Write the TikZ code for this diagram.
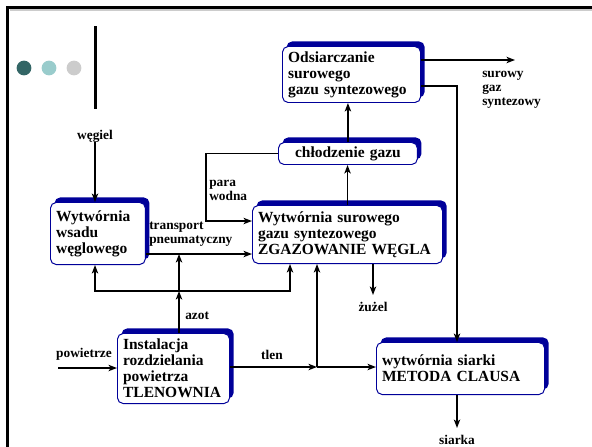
\documentclass[tikz,border=0pt]{standalone}
\usepackage{fontspec}
\setmainfont{Liberation Serif}
\usetikzlibrary{positioning,arrows.meta,calc,shadows}
\definecolor{ClausBlue}{RGB}{0,0,153}
\definecolor{DotDark}{RGB}{51,102,102}
\definecolor{DotLight}{RGB}{153,204,204}
\definecolor{DotGrey}{RGB}{204,204,204}

\begin{document}
\begin{tikzpicture}[x=0.025cm, y=-0.025cm,
  stage/.style={draw=ClausBlue, line width=0.7pt, rounded corners=4pt, fill=white,
                anchor=north west, align=left, inner xsep=4pt, inner ysep=2pt,
                font=\fontsize{11}{11.3}\selectfont\bfseries,
                general shadow={shadow xshift=2.9pt, shadow yshift=3.6pt, fill=ClausBlue}},
  lbl/.style={align=left, inner sep=0pt, font=\fontsize{9.5}{10}\selectfont\bfseries},
  arr/.style={-{Stealth[length=6pt, width=4.5pt, inset=1.5pt]}, line width=1.2pt}]
  \useasboundingbox (0,0) rectangle (592,447);

  % slide frame and dots
  \draw[DotGrey, line width=1pt] (592,9.8) -- (9.5,9.8);
  \draw[line width=2pt] (592,7.3) -- (7.3,7.3) -- (7.3,447);
  \fill[DotDark] (24,68) circle (7.4);
  \fill[DotLight] (49,68) circle (7.4);
  \fill[DotGrey] (74,68) circle (7.4);
  \draw[line width=1.6pt] (95.5,26) -- (95.5,109);

  % process stages
  \node[stage, text width=3.17cm, minimum height=1.4cm] (desulf) at (282,46)
    {Odsiarczanie\\surowego\\gazu syntezowego};
  \node[stage, text width=3.19cm, minimum height=0.55cm, align=center] (cooling) at (278,142)
    {chłodzenie gazu};
  \node[stage, text width=2.09cm, minimum height=1.55cm] (coalprep) at (50,202)
    {Wytwórnia\\wsadu\\węglowego};
  \node[stage, text width=4.47cm, minimum height=1.45cm] (gasifier) at (252,205)
    {Wytwórnia surowego\\gazu syntezowego\\ZGAZOWANIE WĘGLA};
  \node[stage, text width=2.52cm, minimum height=1.75cm] (asu) at (117,333)
    {Instalacja\\rozdzielania\\powietrza\\TLENOWNIA};
  \node[stage, text width=3.92cm, minimum height=1.3cm] (claus) at (376,342)
    {wytwórnia siarki\\METODA CLAUSA};

  % stream labels
  \node[lbl] (coal) at (95,136) {węgiel};
  \node[lbl, anchor=west] (pneu) at (149,234) {transport\\pneumatyczny};
  \node[lbl, anchor=west] (steamlbl) at (209,190) {para\\wodna};
  \node[lbl, anchor=west] (rawgas) at (482,90) {surowy\\gaz\\syntezowy};
  \node[lbl] (slaglbl) at (373,307) {żużel};
  \node[lbl, anchor=west] (n2) at (185,316) {azot};
  \node[lbl] (airlbl) at (84,354) {powietrze};
  \node[lbl] (o2lbl) at (272,355) {tlen};
  \node[lbl] (sulflbl) at (457,440) {siarka};

  % junctions and free ends
  \coordinate (tp) at (179,254);
  \coordinate (steam) at (206,221);
  \coordinate (bus) at (179,291);
  \coordinate (busL) at (95,291);
  \coordinate (busR) at (290,291);
  \coordinate (o2) at (317,367);
  \coordinate (sgas) at (515,60);
  \coordinate (h2s) at (457,86);
  \coordinate (slag) at (373,295);
  \coordinate (air) at (58,368);
  \coordinate (sulf) at (457,428);

  % streams
  \draw[arr] (coal) -- (coal |- coalprep.north);
  \draw[arr] (coalprep.east |- tp) -- (gasifier.west |- tp);
  \draw[arr] (cooling.west) -| (steam) -- (gasifier.west |- steam);
  \draw[arr] (gasifier.north) -- (gasifier.north |- cooling.south);
  \draw[arr] (cooling.north) -- (cooling.north |- desulf.south);
  \draw[arr] (desulf.east |- sgas) -- (sgas);
  \draw[arr] (desulf.east |- h2s) -| (h2s |- claus.north);
  \draw[arr] (gasifier.south -| slag) -- (slag);
  \draw[arr] (bus) -| (busL |- coalprep.south);
  \draw[arr] (bus) -| (busR |- gasifier.south);
  \draw[arr] (asu.north -| bus) -- (bus);
  \draw[arr] (bus) -- (tp);
  \draw[arr] (asu.east |- o2) -- (o2);
  \draw[arr] (o2) -- (claus.west |- o2);
  \draw[arr] (o2) -- (o2 |- gasifier.south);
  \draw[arr] (air) -- (asu.west |- air);
  \draw[arr] (claus.south -| sulf) -- (sulf);
\end{tikzpicture}
\end{document}
